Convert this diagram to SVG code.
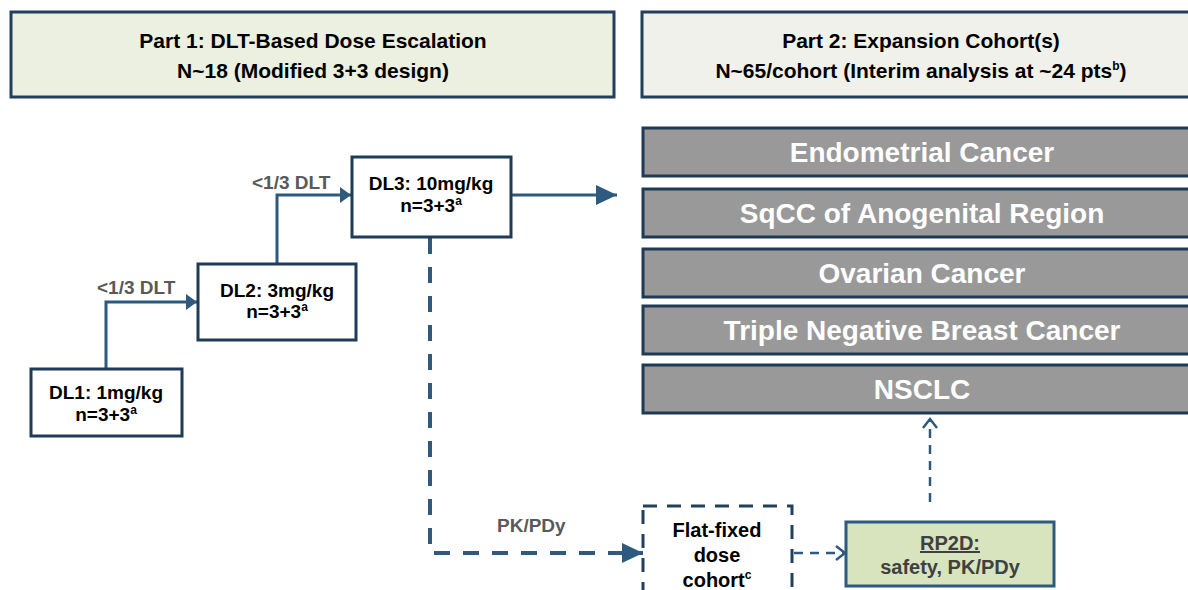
<svg xmlns="http://www.w3.org/2000/svg" width="1188" height="590" viewBox="0 0 1188 590">
<style>
.t{font-family:"Liberation Sans",Arial,sans-serif;font-weight:bold}
.hdr{stroke:#22405c;stroke-width:3}
.hd{font-size:21px;fill:#000;text-anchor:middle}
.dl{fill:#fff;stroke:#1f3b57;stroke-width:3}
.dlt{font-size:19px;fill:#000;text-anchor:middle}
.ft{font-size:20px;fill:#000;text-anchor:middle}
.gray{fill:#999;stroke:#1f3a55;stroke-width:3}
.gt{font-size:28px;fill:#fff;text-anchor:middle}
.lab{font-size:19px;fill:#595959}
.con{fill:none;stroke:#2d5a7e;stroke-width:3}
.dash1{fill:none;stroke:#2d5a7e;stroke-width:4;stroke-dasharray:16 13}
.dash2{fill:none;stroke:#2d5a7e;stroke-width:2.5;stroke-dasharray:9 7}
.sup{font-size:12px}
</style>
<defs>
<marker id="tri" markerUnits="userSpaceOnUse" markerWidth="12" markerHeight="16" refX="11" refY="8" orient="auto"><path d="M0,0 L11,8 L0,16 z" fill="#2d5a7e"/></marker>
<marker id="big" markerUnits="userSpaceOnUse" markerWidth="22" markerHeight="22" refX="21" refY="10" orient="auto"><path d="M0,0 L21,10 L0,20 z" fill="#2d5a7e"/></marker>
<marker id="open" markerUnits="userSpaceOnUse" markerWidth="14" markerHeight="16" refX="11" refY="8" orient="auto"><path d="M2,1 L11,8 L2,15" fill="none" stroke="#2d5a7e" stroke-width="2.5"/></marker>
</defs>

<g id="part1-header">
<rect class="hdr" x="11" y="12" width="603" height="85" fill="#ebf0e1"/>
<text class="t hd" x="313" y="48">Part 1: DLT-Based Dose Escalation</text>
<text class="t hd" x="313" y="78">N~18 (Modified 3+3 design)</text>
</g>
<g id="part2-header">
<rect class="hdr" x="642" y="12" width="560" height="85" fill="#eff1ea"/>
<text class="t hd" x="921" y="48">Part 2: Expansion Cohort(s)</text>
<text class="t hd" x="921" y="78">N~65/cohort (Interim analysis at ~24 pts<tspan class="sup" dy="-8">b</tspan><tspan dy="8">)</tspan></text>
</g>

<g id="connectors">
<path class="con" d="M106,369 V302 H197" marker-end="url(#tri)"/>
<path class="con" d="M277,264 V195 H351" marker-end="url(#tri)"/>
<path class="con" d="M512,195 H617" marker-end="url(#big)"/>
<path class="dash1" d="M430,238 V553 H643" marker-end="url(#big)"/>
<path class="dash2" d="M794,553 H845" marker-end="url(#open)"/>
<path class="dash2" d="M930,502 V419" marker-end="url(#open)"/>
<text class="t lab" x="252" y="189">&lt;1/3 DLT</text>
<text class="t lab" x="97" y="294">&lt;1/3 DLT</text>
<text class="t lab" x="497" y="532">PK/PDy</text>
</g>

<g id="dl1">
<rect class="dl" x="31" y="369" width="151" height="67"/>
<text class="t dlt" x="106" y="399">DL1: 1mg/kg</text>
<text class="t dlt" x="106" y="421">n=3+3<tspan class="sup" dy="-7">a</tspan></text>
</g>
<g id="dl2">
<rect class="dl" x="198" y="264" width="158" height="76"/>
<text class="t dlt" x="277" y="297">DL2: 3mg/kg</text>
<text class="t dlt" x="277" y="318">n=3+3<tspan class="sup" dy="-7">a</tspan></text>
</g>
<g id="dl3">
<rect class="dl" x="352" y="157" width="159" height="80"/>
<text class="t dlt" x="431" y="190">DL3: 10mg/kg</text>
<text class="t dlt" x="431" y="212">n=3+3<tspan class="sup" dy="-7">a</tspan></text>
</g>

<g id="endometrial">
<rect class="gray" x="643" y="128" width="560" height="48"/>
<text class="t gt" x="922" y="162">Endometrial Cancer</text>
</g>
<g id="sqcc">
<rect class="gray" x="643" y="189" width="560" height="48"/>
<text class="t gt" x="922" y="223">SqCC of Anogenital Region</text>
</g>
<g id="ovarian">
<rect class="gray" x="643" y="249" width="560" height="48"/>
<text class="t gt" x="922" y="283">Ovarian Cancer</text>
</g>
<g id="tnbc">
<rect class="gray" x="643" y="306" width="560" height="48"/>
<text class="t gt" x="922" y="340">Triple Negative Breast Cancer</text>
</g>
<g id="nsclc">
<rect class="gray" x="643" y="365" width="560" height="48"/>
<text class="t gt" x="922" y="399">NSCLC</text>
</g>

<g id="flat-fixed">
<rect x="643" y="506" width="149" height="100" fill="#fff" stroke="#22405c" stroke-width="3" stroke-dasharray="14 10"/>
<text class="t ft" x="717" y="537">Flat-fixed</text>
<text class="t ft" x="717" y="562">dose</text>
<text class="t ft" x="717" y="587">cohort<tspan class="sup" dy="-8">c</tspan></text>
</g>

<g id="rp2d">
<rect x="846" y="522" width="208" height="64" fill="#d7e4bd" stroke="#2d5a7e" stroke-width="3"/>
<text class="t" x="950" y="550" font-size="20" fill="#404040" text-anchor="middle" text-decoration="underline">RP2D:</text>
<text class="t" x="950" y="574" font-size="20" fill="#404040" text-anchor="middle">safety, PK/PDy</text>
</g>
</svg>
